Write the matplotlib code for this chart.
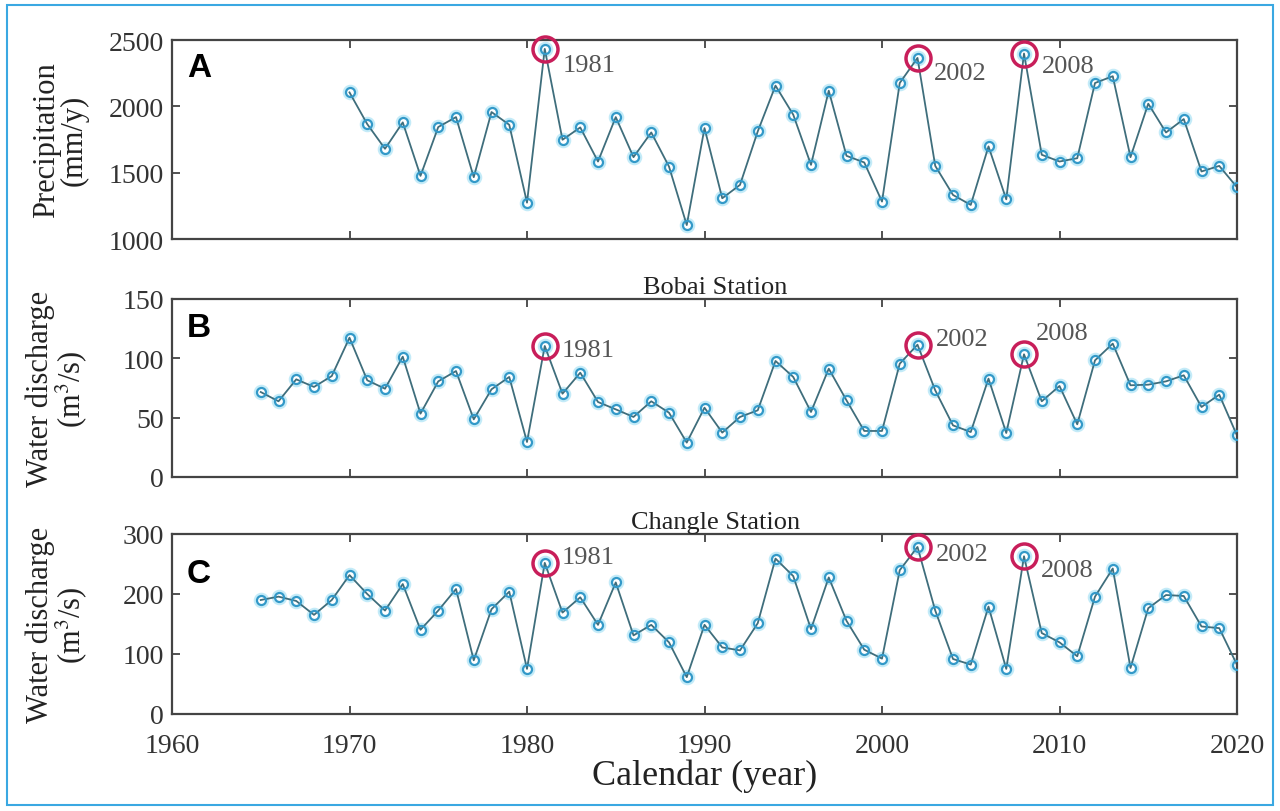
import matplotlib.pyplot as plt
import numpy as np
from matplotlib.patches import Rectangle

plt.rcParams['font.family'] = ['Liberation Serif', 'DejaVu Serif']
plt.rcParams['mathtext.fontset'] = 'stix'

years_a = np.arange(1970, 2021)
years_bc = np.arange(1965, 2021)

precip = [2105, 1866, 1680, 1879, 1476, 1844, 1919, 1466, 1957, 1861,
          1274, 2433, 1748, 1841, 1584, 1919, 1617, 1803, 1546, 1105,
          1836, 1307, 1408, 1811, 2156, 1937, 1559, 2118, 1627, 1577,
          1282, 2176, 2365, 1551, 1332, 1257, 1698, 1299, 2398, 1635,
          1584, 1609, 2176, 2227, 1617, 2020, 1803, 1904, 1509, 1551,
          1390]

bobai = [71.6, 63.8, 82.3, 75.9, 85.1,
         117.4, 81.5, 74.4, 101.4, 53.4, 80.6, 89.3, 48.6, 73.9, 84.3,
         29.5, 110.4, 70.2, 87.9, 63.2, 57.0, 50.6, 63.8, 54.2, 29.0,
         58.4, 37.4, 50.6, 56.2, 97.8, 84.3, 54.8, 91.3, 64.6, 38.8,
         38.8, 95.5, 111.5, 73.0, 43.5, 37.9, 82.9, 37.1, 103.4, 63.8,
         76.7, 44.4, 98.3, 112.4, 77.3, 77.8, 80.6, 85.7, 59.0, 69.4,
         35.0]

changle = [190, 195.6, 188.4, 165.2, 190,
           231.5, 200, 172.4, 216.6, 140.4, 172.4, 208.3, 89.5, 174.6, 203.9,
           75.2, 251.9, 169, 194.5, 148.6, 219.3, 131, 148.6, 119.4, 61.4,
           148.6, 111, 106, 151.4, 259, 229.8, 141.5, 227.6, 155.3, 107.2,
           92.3, 239.7, 278.4, 172.4, 91.7, 82.3, 179, 75.2, 262.9, 134.9,
           119.4, 96.2, 195.6, 242.5, 76.8, 176.3, 198.3, 196.7, 145.9, 143.1,
           82]

flood_years = [1981, 2002, 2008]

panels = [
    dict(x=years_a, y=precip, letter='A', ylabel='Precipitation\n(mm/y)',
         ylim=(1000, 2500), yticks=[1000, 1500, 2000, 2500], title=None,
         pos=[172, 41, 240], letter_y=0.86,
         offsets=[(18, -16), (16, -15), (18, -12)]),
    dict(x=years_bc, y=bobai, letter='B', ylabel='Water discharge\n(m$^3$/s)',
         ylim=(0, 150), yticks=[0, 50, 100, 150], title='Bobai Station',
         pos=[172, 300, 478], letter_y=0.84,
         offsets=[(17, -4), (18, 6), (12, 21)]),
    dict(x=years_bc, y=changle, letter='C', ylabel='Water discharge\n(m$^3$/s)',
         ylim=(0, 300), yticks=[0, 100, 200, 300], title='Changle Station',
         pos=[172, 535, 715], letter_y=0.78,
         offsets=[(17, 6), (18, -7), (17, -14)]),
]

W, H = 1280, 812
fig = plt.figure(figsize=(W / 100, H / 100), dpi=100)
fig.patches.append(Rectangle((7 / W, 6 / H), 1266 / W, 800 / H, transform=fig.transFigure,
                             fill=False, edgecolor='#3aa8e2', linewidth=1.5))

line_col = '#3f6e7c'
mark_col = '#3399c8'
ring_col = '#c81e5a'

axes = []
for p in panels:
    left, top, bottom = p['pos']
    ax = fig.add_axes([left / W, 1 - bottom / H, 1065 / W, (bottom - top) / H])
    axes.append(ax)
    x = np.asarray(p['x'])
    y = np.asarray(p['y'])
    # soft glow under the markers, like the original raster
    ax.plot(x, y, 'o', ms=9, mfc='none', mec='#c4ebf8', mew=2.2, zorder=1)
    ax.plot(x, y, '-', color=line_col, lw=1.3, zorder=2)
    ax.plot(x, y, 'o', ms=6.5, mfc='none', mec=mark_col, mew=1.6, zorder=3)

    for yr, off in zip(flood_years, p['offsets']):
        v = y[x == yr][0]
        ax.plot(yr, v, 'o', ms=18, mfc='none', mec=ring_col, mew=2.5, zorder=4, clip_on=False)
        ax.annotate(str(yr), (yr, v), xytext=off, textcoords='offset pixels',
                    ha='left', va='center', fontsize=19, color='#555555', zorder=5)

    ax.set_xlim(1960, 2020)
    ax.set_ylim(*p['ylim'])
    ax.set_yticks(p['yticks'])
    ax.set_xticks(np.arange(1960, 2021, 10))
    ax.tick_params(direction='in', top=True, right=True, length=6, width=1.2,
                   labelsize=20, colors='#333333')
    ax.tick_params(axis='y', pad=6)
    ax.tick_params(axis='x', pad=14)
    for s in ax.spines.values():
        s.set_color('#444444')
        s.set_linewidth(1.6)
    ax.set_ylabel(p['ylabel'], fontsize=22, linespacing=0.95, color='#222222')
    ax.yaxis.set_label_coords(-0.078, 0.5)
    ax.text(0.014, p['letter_y'], p['letter'], transform=ax.transAxes,
            fontsize=24, fontweight='bold', family='Liberation Sans', va='center')
    if p['title']:
        ax.set_title(p['title'], fontsize=19, pad=4, color='#222222', x=0.51)

for ax in axes[:-1]:
    ax.tick_params(labelbottom=False)
axes[-1].set_xlabel('Calendar (year)', fontsize=26, color='#222222', labelpad=0)

fig.savefig('out.png', dpi=100)
